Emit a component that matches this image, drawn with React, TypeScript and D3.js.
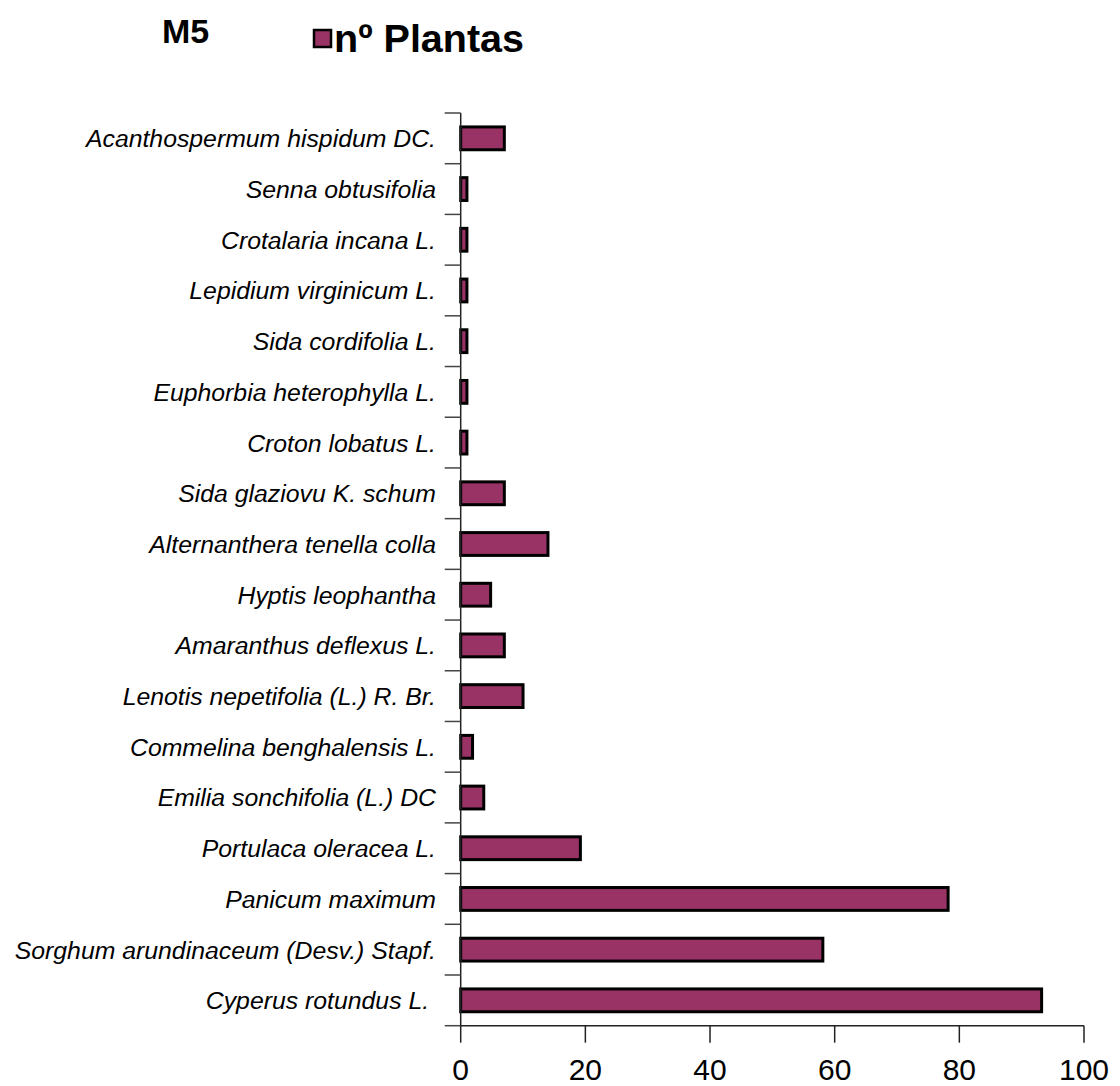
import React, { useEffect, useRef } from "react";
import * as d3 from "d3";

// Species, listed top to bottom as drawn
const species = [
  "Acanthospermum hispidum DC.",
  "Senna obtusifolia",
  "Crotalaria incana L.",
  "Lepidium virginicum L.",
  "Sida cordifolia L.",
  "Euphorbia heterophylla L.",
  "Croton lobatus L.",
  "Sida glaziovu K. schum",
  "Alternanthera tenella colla",
  "Hyptis leophantha",
  "Amaranthus deflexus L.",
  "Lenotis nepetifolia (L.) R. Br.",
  "Commelina benghalensis L.",
  "Emilia sonchifolia (L.) DC",
  "Portulaca oleracea L.",
  "Panicum maximum",
  "Sorghum arundinaceum (Desv.) Stapf.",
  "Cyperus rotundus L. ",
];

// nº Plantas per species
const plantCounts = [7, 1, 1, 1, 1, 1, 1, 7, 14, 4.8, 7, 10, 1.9, 3.7, 19.2, 78.2, 58.1, 93.2];

const xTicks = [0, 20, 40, 60, 80, 100];

const chartTitle = "M5";
const seriesName = "nº Plantas";

const WIDTH = 1120;
const HEIGHT = 1086;
const BAR_FILL = "#993366";
const FONT = "'Liberation Sans', Arial, Helvetica, sans-serif";

export default function App() {
  const ref = useRef<SVGSVGElement | null>(null);

  useEffect(() => {
    const svg = d3.select(ref.current);
    svg.selectAll("*").remove();

    const left = 460.7;
    const right = 1084;
    const top = 113;
    const bottom = 1025.7;

    const x = d3.scaleLinear().domain([0, 100]).range([left, right]);
    const y = d3
      .scaleBand<string>()
      .domain(species)
      .range([top, bottom])
      .paddingInner(0.55)
      .paddingOuter(0.275);

    const step = (bottom - top) / species.length;

    // Title and legend
    svg
      .append("text")
      .attr("x", 162)
      .attr("y", 43)
      .attr("font-family", FONT)
      .attr("font-weight", "bold")
      .attr("font-size", 34)
      .attr("fill", "#000")
      .text(chartTitle);

    svg
      .append("rect")
      .attr("x", 314)
      .attr("y", 30)
      .attr("width", 17)
      .attr("height", 17)
      .attr("fill", BAR_FILL)
      .attr("stroke", "#000")
      .attr("stroke-width", 2.5);

    svg
      .append("text")
      .attr("x", 334)
      .attr("y", 52)
      .attr("font-family", FONT)
      .attr("font-weight", "bold")
      .attr("font-size", 39.5)
      .attr("fill", "#000")
      .text(seriesName);

    // Bars
    svg
      .append("g")
      .selectAll("rect")
      .data(species)
      .join("rect")
      .attr("x", x(0))
      .attr("y", (d) => y(d)!)
      .attr("width", (_, i) => x(plantCounts[i]) - x(0))
      .attr("height", y.bandwidth())
      .attr("fill", BAR_FILL)
      .attr("stroke", "#000")
      .attr("stroke-width", 3);

    // Category axis: line, boundary ticks, labels
    const yAxis = svg.append("g");
    yAxis
      .append("line")
      .attr("x1", left)
      .attr("x2", left)
      .attr("y1", top)
      .attr("y2", bottom)
      .attr("stroke", "#222")
      .attr("stroke-width", 1.5);

    yAxis
      .selectAll("line.tick")
      .data(d3.range(species.length + 1))
      .join("line")
      .attr("class", "tick")
      .attr("x1", left - 16)
      .attr("x2", left)
      .attr("y1", (i) => top + i * step)
      .attr("y2", (i) => top + i * step)
      .attr("stroke", "#444")
      .attr("stroke-width", 1.5);

    yAxis
      .selectAll("text")
      .data(species)
      .join("text")
      .attr("x", 436)
      .attr("y", (d) => y(d)! + y.bandwidth() / 2)
      .attr("dy", "0.36em")
      .attr("text-anchor", "end")
      .attr("font-family", FONT)
      .attr("font-style", "italic")
      .attr("font-size", 24.8)
      .attr("fill", "#000")
      .style("white-space", "pre")
      .text((d) => d);

    // Value axis
    const xAxis = svg.append("g");
    xAxis
      .append("line")
      .attr("x1", left)
      .attr("x2", right)
      .attr("y1", bottom)
      .attr("y2", bottom)
      .attr("stroke", "#222")
      .attr("stroke-width", 1.5);

    xAxis
      .selectAll("line.tick")
      .data(xTicks)
      .join("line")
      .attr("class", "tick")
      .attr("x1", (d) => x(d))
      .attr("x2", (d) => x(d))
      .attr("y1", bottom)
      .attr("y2", bottom + 17)
      .attr("stroke", "#222")
      .attr("stroke-width", 1.5);

    xAxis
      .selectAll("text")
      .data(xTicks)
      .join("text")
      .attr("x", (d) => x(d))
      .attr("y", 1080)
      .attr("text-anchor", "middle")
      .attr("font-family", FONT)
      .attr("font-size", 30)
      .attr("fill", "#000")
      .text((d) => String(d));
  }, []);

  return (
    <svg
      ref={ref}
      width={WIDTH}
      height={HEIGHT}
      style={{ position: "absolute", left: 0, top: 0, background: "#fff" }}
    />
  );
}
